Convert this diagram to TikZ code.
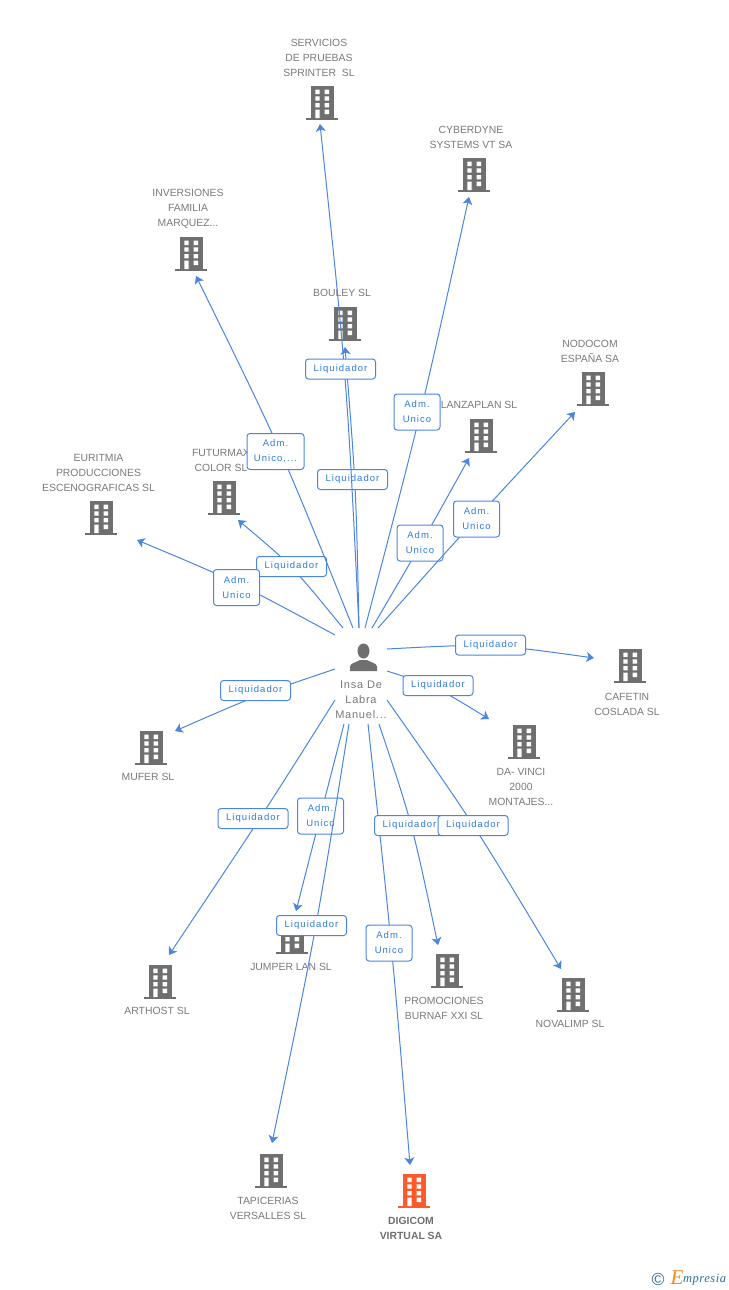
\documentclass[tikz,border=0pt]{standalone}
\usepackage{fontspec}
\setmainfont{Liberation Sans}
\newfontfamily\lblfont[LetterSpace=11]{Liberation Sans}
\newfontfamily\perfont[LetterSpace=7]{Liberation Sans}
\newfontfamily\logofont[LetterSpace=4]{Liberation Serif}
\usetikzlibrary{arrows.meta,calc}
\definecolor{edgeblue}{HTML}{4A86E0}
\definecolor{lbltext}{HTML}{2F7BE2}
\definecolor{bgrey}{HTML}{6F6F6F}
\definecolor{txtgrey}{HTML}{7A7A7A}
\definecolor{borange}{HTML}{FF5A2C}
\definecolor{logoblue}{HTML}{2F6F8F}
\definecolor{logoorange}{HTML}{F58A1F}
\tikzset{
  x=1pt,y=-1pt,
  linkarrow/.style={draw=edgeblue,line width=1pt,-{Stealth[length=7.5pt,width=10pt,inset=2pt]}},
  tagbox/.style={draw=edgeblue,fill=white,line width=1pt,rounded corners=3pt,text=lbltext,
    font=\lblfont\fontsize{9.5}{15}\selectfont,align=center,inner sep=0pt,minimum height=20pt,minimum width=70pt},
  tagtwo/.style={tagbox,minimum height=36pt,minimum width=46pt},
  tagthree/.style={tagbox,minimum height=36pt,minimum width=57pt},
  captxt/.style={text=txtgrey,font=\fontsize{10.4}{15}\selectfont,align=center,inner sep=0pt,yshift=-1pt},
  capbold/.style={text=bgrey,font=\bfseries\fontsize{10.4}{15}\selectfont,align=center,inner sep=0pt,yshift=-1pt},
  pics/bldg/.style={code={
    \fill[#1] (-11.5,-17) rectangle (11.5,15.5);
    \fill[#1] (-16,15) rectangle (16,17);
    \fill[white]
      (-6.7,-13.3) rectangle (-2.3,-9) (2.6,-13.3) rectangle (7.2,-9)
      (-6.7,-6.7) rectangle (-2.3,-2.3) (2.6,-6.7) rectangle (7.2,-2.3)
      (-6.7,0) rectangle (-2.3,4.3) (2.6,0) rectangle (7.2,4.3)
      (-6.7,6.7) rectangle (-2.3,15) (2.6,6.7) rectangle (7.2,11);
  }}
}
% id, start, point on curve, end, label position, label style, label text
\newcommand{\conn}[7]{%
  \coordinate (s#1) at (#2);
  \coordinate (p#1) at (#3);
  \coordinate (e#1) at (#4);
  \coordinate (m#1) at ($(s#1)!.5!(e#1)$);
  \coordinate (c#1) at ($(m#1)!1.3333!(p#1)$);
  \draw[linkarrow] (s#1) .. controls (c#1) .. (e#1);
  \node[#6] (l#1) at (#5) {#7};
}
\begin{document}
\begin{tikzpicture}
\useasboundingbox (0,0) rectangle (728,1290);
\fill[white] (0,0) rectangle (728,1290);

% buildings
\pic (b1) at (322,103) {bldg=bgrey};
\pic (b2) at (474,175) {bldg=bgrey};
\pic (b3) at (191,254) {bldg=bgrey};
\pic (b4) at (345,324) {bldg=bgrey};
\pic (b5) at (481,436) {bldg=bgrey};
\pic (b6) at (593,389) {bldg=bgrey};
\pic (b7) at (101,518) {bldg=bgrey};
\pic (b8) at (224,498) {bldg=bgrey};
\pic (b9) at (630,666) {bldg=bgrey};
\pic (b10) at (524,742) {bldg=bgrey};
\pic (b11) at (151,748) {bldg=bgrey};
\pic (b12) at (160,982) {bldg=bgrey};
\pic (b13) at (292,937) {bldg=bgrey};
\pic (b14) at (447,971) {bldg=bgrey};
\pic (b15) at (573,995) {bldg=bgrey};
\pic (b16) at (271,1171) {bldg=bgrey};
\pic (b17) at (414,1191) {bldg=borange};

% captions
\node[captxt] (t1) at (319,57) {SERVICIOS\\DE PRUEBAS\\SPRINTER\ \ SL};
\node[captxt] (t2) at (471,136.5) {CYBERDYNE\\SYSTEMS VT SA};
\node[captxt] (t3) at (188,208) {INVERSIONES\\FAMILIA\\MARQUEZ...};
\node[captxt] (t4) at (342,292) {BOULEY SL};
\node[captxt] (t5) at (479,404) {LANZAPLAN SL};
\node[captxt] (t6) at (590,350.5) {NODOCOM\\ESPAÑA SA};
\node[captxt] (t7) at (98.5,472) {EURITMIA\\PRODUCCIONES\\ESCENOGRAFICAS SL};
\node[captxt] (t8) at (221,459.5) {FUTURMAX\\COLOR SL};
\node[captxt] (t9) at (627,703) {CAFETIN\\COSLADA SL};
\node[captxt] (t10) at (521,786) {DA- VINCI\\2000\\MONTAJES...};
\node[captxt] (t11) at (148,776) {MUFER SL};
\node[captxt] (t12) at (157,1010) {ARTHOST SL};
\node[captxt] (t13) at (291,966) {JUMPER LAN SL};
\node[captxt] (t14) at (444,1007.5) {PROMOCIONES\\BURNAF XXI SL};
\node[captxt] (t15) at (570,1023) {NOVALIMP SL};
\node[captxt] (t16) at (268,1207.5) {TAPICERIAS\\VERSALLES SL};
\node[capbold] (t17) at (411,1227.5) {DIGICOM\\VIRTUAL SA};

% connectors with their labels
\conn{4}{359,628}{355,487}{345,347}{352.5,479.5}{tagbox}{Liquidador}
\conn{1}{359,628}{345,378}{320,124}{340.5,369}{tagbox}{Liquidador}
\conn{2}{365,628}{420.5,412}{469,197}{417,412}{tagtwo}{\raisebox{-1pt}{Adm.}\\\raisebox{-1pt}{Unico}}
\conn{5}{372,628}{421.5,543}{469,458}{420,543}{tagtwo}{\raisebox{-1pt}{Adm.}\\\raisebox{-1pt}{Unico}}
\conn{6}{378,628}{476,519}{575,412}{476.5,519}{tagtwo}{\raisebox{-1pt}{Adm.}\\\raisebox{-1pt}{Unico}}
\conn{8}{343,628}{291,567}{238,520}{291.5,566.5}{tagbox}{Liquidador}
\conn{3}{353,628}{280,451}{196,276}{275.5,451.5}{tagthree}{\raisebox{-1pt}{Adm.}\\\raisebox{-1pt}{Unico,...}}
\conn{7}{335,635}{236,583}{137,540}{236.5,587.5}{tagtwo}{\raisebox{-1pt}{Adm.}\\\raisebox{-1pt}{Unico}}
\conn{9}{387,649}{490,646}{594,658}{490.5,645}{tagbox}{Liquidador}
\conn{10}{387,671}{437,689}{489,719}{438,685.5}{tagbox}{Liquidador}
\conn{11}{335,669}{255,697}{175,731}{255.5,690.5}{tagbox}{Liquidador}
\conn{12}{335,700}{260,818}{169,955}{253,818.5}{tagbox}{Liquidador}
\conn{13}{344,724}{320,817.5}{296,911}{320.5,816}{tagtwo}{\raisebox{-1pt}{Adm.}\\\raisebox{-1pt}{Unico}}
\conn{16}{349,724}{315,930}{272,1143}{311.5,925.5}{tagbox}{Liquidador}
\conn{17}{368,724}{391,943}{410,1165}{389,943}{tagtwo}{\raisebox{-1pt}{Adm.}\\\raisebox{-1pt}{Unico}}
\conn{14}{379,724}{411,825}{438,945}{409.5,825.5}{tagbox}{Liquidador}
\conn{15}{387,700}{473,825}{561,969}{473,825.5}{tagbox}{Liquidador}

% person
\fill[bgrey] (363.5,651) ellipse (6 and 7.5);
\fill[bgrey] (350,671) -- (350,666.5) .. controls (350.5,663) and (356,662.5) .. (360,660)
  -- (367,660) .. controls (371,662.5) and (376.5,663) .. (377,666.5) -- (377,671) -- cycle;
\node[captxt,yshift=1pt,font=\perfont\fontsize{11}{15}\selectfont] (person) at (361,699.5) {Insa De\\Labra\\Manuel...};

% logo
\node[text=logoblue,font=\fontsize{17.5}{17}\selectfont,inner sep=0pt] (copy) at (658,1279) {©};
\node[text=logoorange,font=\logofont\itshape\fontsize{21}{21}\selectfont,inner sep=0pt] (loge) at (677,1277.5) {E};
\node[text=logoblue,font=\logofont\itshape\fontsize{12.5}{14}\selectfont,inner sep=0pt,anchor=west] (logt) at (683,1280) {mpresia};
\end{tikzpicture}
\end{document}
